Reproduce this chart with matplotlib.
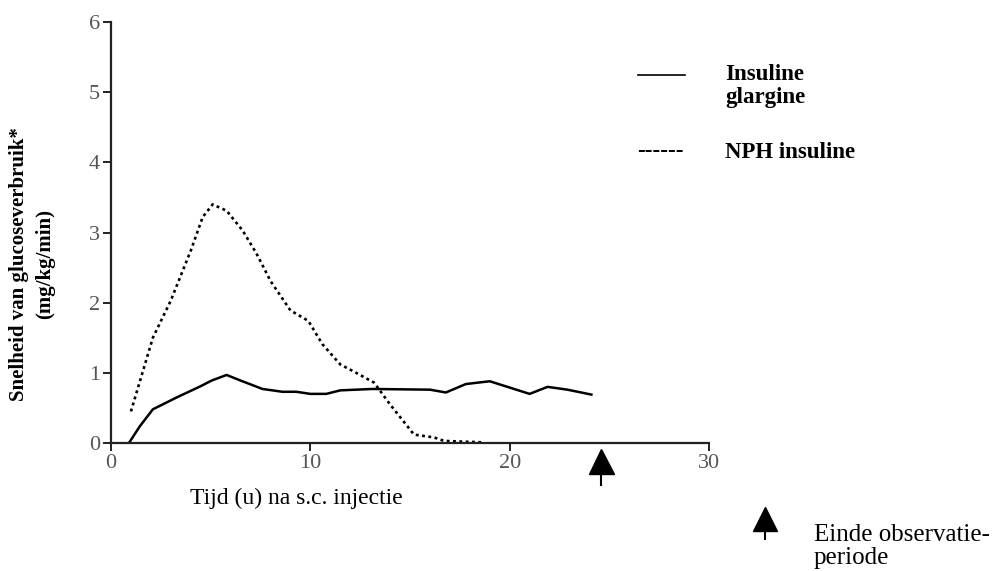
import matplotlib.pyplot as plt
from matplotlib.lines import Line2D

# data
glargine_t = [0.9, 1.45, 2.1, 3.3, 4.5, 5.05, 5.8, 6.5, 7.6, 8.6, 9.3, 10.0, 10.8, 11.5,
              13.1, 16.0, 16.8, 17.8, 19.0, 20.0, 21.0, 21.9, 22.9, 24.1]
glargine = [0.0, 0.24, 0.48, 0.65, 0.81, 0.89, 0.97, 0.89, 0.77, 0.73, 0.73, 0.70, 0.70, 0.75,
            0.77, 0.76, 0.72, 0.84, 0.88, 0.79, 0.70, 0.80, 0.76, 0.69]

nph_t = [1.0, 2.1, 3.0, 4.0, 4.6, 5.1, 5.8, 6.6, 7.3, 8.0, 9.0, 9.9, 10.6, 11.5,
         12.3, 13.2, 14.0, 15.2, 16.2, 16.7, 18.6]
nph = [0.45, 1.5, 2.03, 2.74, 3.22, 3.40, 3.31, 3.03, 2.70, 2.31, 1.89, 1.74, 1.41, 1.12,
       1.00, 0.86, 0.55, 0.12, 0.08, 0.03, 0.01]

end_obs = 24.6
x_ticks = [0, 10, 20, 30]
y_ticks = [0, 1, 2, 3, 4, 5, 6]

plt.rcParams['font.family'] = ['Liberation Serif', 'DejaVu Serif']

W, H = 1000, 571
fig = plt.figure(figsize=(W / 100, H / 100), dpi=100)
ax = fig.add_axes([111 / W, 1 - 443 / H, (709 - 111) / W, (443 - 22) / H])

def fx(px):
    return px / W

def fy(py):
    return 1 - py / H

ax.plot(glargine_t, glargine, color='black', lw=1.8)
ax.plot(nph_t, nph, color='black', lw=1.9, linestyle=(0, (1.1, 1.3)))

# arrow under the axis marking end of observation
ax.plot([end_obs, end_obs], [-0.35, -0.6], color='black', lw=1.5, clip_on=False)
ax.plot([end_obs], [-0.26], marker='^', markersize=18, color='black', clip_on=False)

ax.set_xlim(0, 30)
ax.set_ylim(0, 6)
ax.set_xticks(x_ticks)
ax.set_yticks(y_ticks)
ax.spines['top'].set_visible(False)
ax.spines['right'].set_visible(False)
for s in ['left', 'bottom']:
    ax.spines[s].set_linewidth(1.6)
    ax.spines[s].set_color('#222222')
ax.tick_params(axis='both', direction='out', length=6, width=1.4, color='#222222',
               labelsize=16, labelcolor='#555555', pad=2)

fig.text(fx(19), fy(264), 'Snelheid van glucoseverbruik*', rotation=90, fontsize=15,
         fontweight='bold', ha='center', va='center')
fig.text(fx(45), fy(264), '(mg/kg/min)', rotation=90, fontsize=15,
         fontweight='bold', ha='center', va='center')

fig.text(fx(296), fy(498), 'Tijd (u) na s.c. injectie', fontsize=17, ha='center', va='center')

# legend drawn by hand
fig.add_artist(Line2D([fx(638), fx(685)], [fy(75), fy(75)], color='black', lw=1.2))
fig.text(fx(725), fy(86), 'Insuline\nglargine', fontsize=16.5, fontweight='bold',
         ha='left', va='center', linespacing=1.15)
fig.text(fx(637), fy(152), '------', fontsize=16.5, fontweight='bold', ha='left', va='center')
fig.text(fx(725), fy(153), 'NPH insuline', fontsize=16.5, fontweight='bold',
         ha='left', va='center')

# bottom-right note
fig.add_artist(Line2D([fx(765), fx(765)], [fy(525), fy(539)], color='black', lw=1.5))
fig.add_artist(Line2D([fx(765)], [fy(519)], marker='^', markersize=17, color='black'))
fig.text(fx(814), fy(524), 'Einde observatie-\nperiode', fontsize=18, ha='left', va='top',
         linespacing=1.05)

fig.savefig('out.png', dpi=100)
